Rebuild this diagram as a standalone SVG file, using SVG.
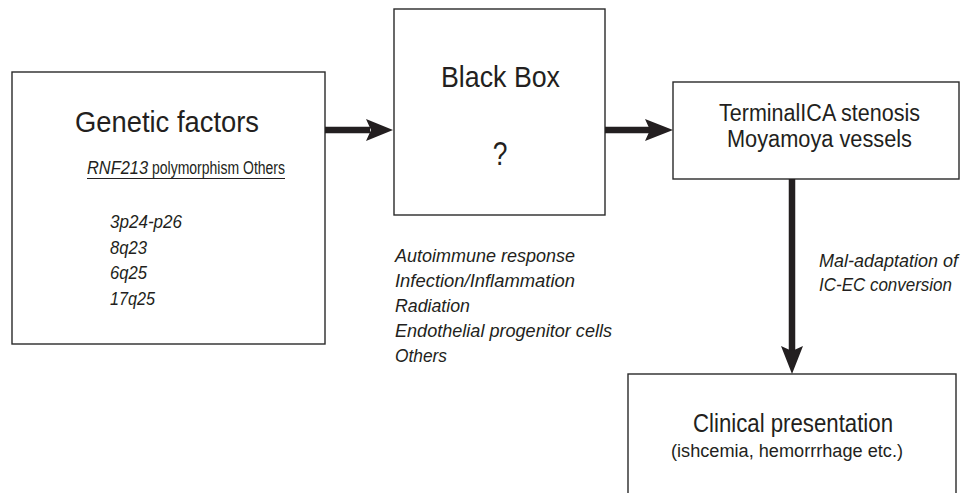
<svg xmlns="http://www.w3.org/2000/svg" width="963" height="493" viewBox="0 0 963 493">
<style>
.box{fill:#fff;stroke:#2a2a2a;stroke-width:1.4}
text{font-family:"Liberation Sans",Arial,sans-serif;fill:#231f20}
.big{font-size:30px}
.mid{font-size:25px}
.sm{font-size:18px}
.it{font-style:italic;font-size:18px}
.conn{stroke:#231f20;stroke-width:6.5;fill:none}
.head{fill:#231f20;stroke:none}
</style>
<rect width="963" height="493" fill="#fff"/>
<g id="genetic">
<rect class="box" x="12" y="72" width="313" height="272"/>
<text class="big" x="75" y="132" textLength="184" lengthAdjust="spacingAndGlyphs">Genetic factors</text>
<text class="it" x="87" y="174" font-size="18" textLength="61" lengthAdjust="spacingAndGlyphs">RNF213</text>
<text x="152" y="174" font-size="18" textLength="133" lengthAdjust="spacingAndGlyphs">polymorphism Others</text>
<line x1="87" y1="178.5" x2="285" y2="178.5" stroke="#231f20" stroke-width="1"/>
<text class="it" x="110" y="228" textLength="72" lengthAdjust="spacingAndGlyphs">3p24-p26</text>
<text class="it" x="110" y="254" textLength="37" lengthAdjust="spacingAndGlyphs">8q23</text>
<text class="it" x="110" y="279" textLength="37" lengthAdjust="spacingAndGlyphs">6q25</text>
<text class="it" x="110" y="305" textLength="45" lengthAdjust="spacingAndGlyphs">17q25</text>
</g>
<g id="blackbox">
<rect class="box" x="394" y="9" width="211" height="206"/>
<text class="big" x="441" y="87" textLength="119" lengthAdjust="spacingAndGlyphs">Black Box</text>
<text x="500" y="165" font-size="33" text-anchor="middle" transform="translate(500 165) scale(0.8 1) translate(-500 -165)">?</text>
</g>
<g id="blackbox-factors">
<text class="it" x="395" y="262" textLength="180" lengthAdjust="spacingAndGlyphs">Autoimmune response</text>
<text class="it" x="395" y="287" textLength="180" lengthAdjust="spacingAndGlyphs">Infection/Inflammation</text>
<text class="it" x="395" y="312" textLength="75" lengthAdjust="spacingAndGlyphs">Radiation</text>
<text class="it" x="395" y="337" textLength="217" lengthAdjust="spacingAndGlyphs">Endothelial progenitor cells</text>
<text class="it" x="395" y="362" textLength="52" lengthAdjust="spacingAndGlyphs">Others</text>
</g>
<g id="terminal">
<rect class="box" x="673" y="82" width="286" height="97"/>
<text x="719" y="121" font-size="23" textLength="201" lengthAdjust="spacingAndGlyphs">TerminalICA stenosis</text>
<text x="727" y="147" font-size="23" textLength="185" lengthAdjust="spacingAndGlyphs">Moyamoya vessels</text>
</g>
<g id="clinical">
<rect class="box" x="628" y="374" width="328" height="140"/>
<text class="mid" x="693" y="432" textLength="200" lengthAdjust="spacingAndGlyphs">Clinical presentation</text>
<text class="sm" x="671" y="457" textLength="232" lengthAdjust="spacingAndGlyphs">(ishcemia, hemorrrhage etc.)</text>
</g>
<g id="connectors">
<line class="conn" x1="325" y1="130" x2="370" y2="130"/>
<path class="head" d="M393,130 L366,119 L371,130 L366,141 Z"/>
<line class="conn" x1="605" y1="130" x2="650" y2="130"/>
<path class="head" d="M673,130 L645,119 L650,130 L645,141 Z"/>
<line class="conn" x1="792" y1="179" x2="792" y2="352"/>
<path class="head" d="M792,374 L781,346 L792,351 L803,346 Z"/>
<text class="it" x="819" y="267" textLength="139" lengthAdjust="spacingAndGlyphs">Mal-adaptation of</text>
<text class="it" x="819" y="291" textLength="133" lengthAdjust="spacingAndGlyphs">IC-EC conversion</text>
</g>
</svg>
